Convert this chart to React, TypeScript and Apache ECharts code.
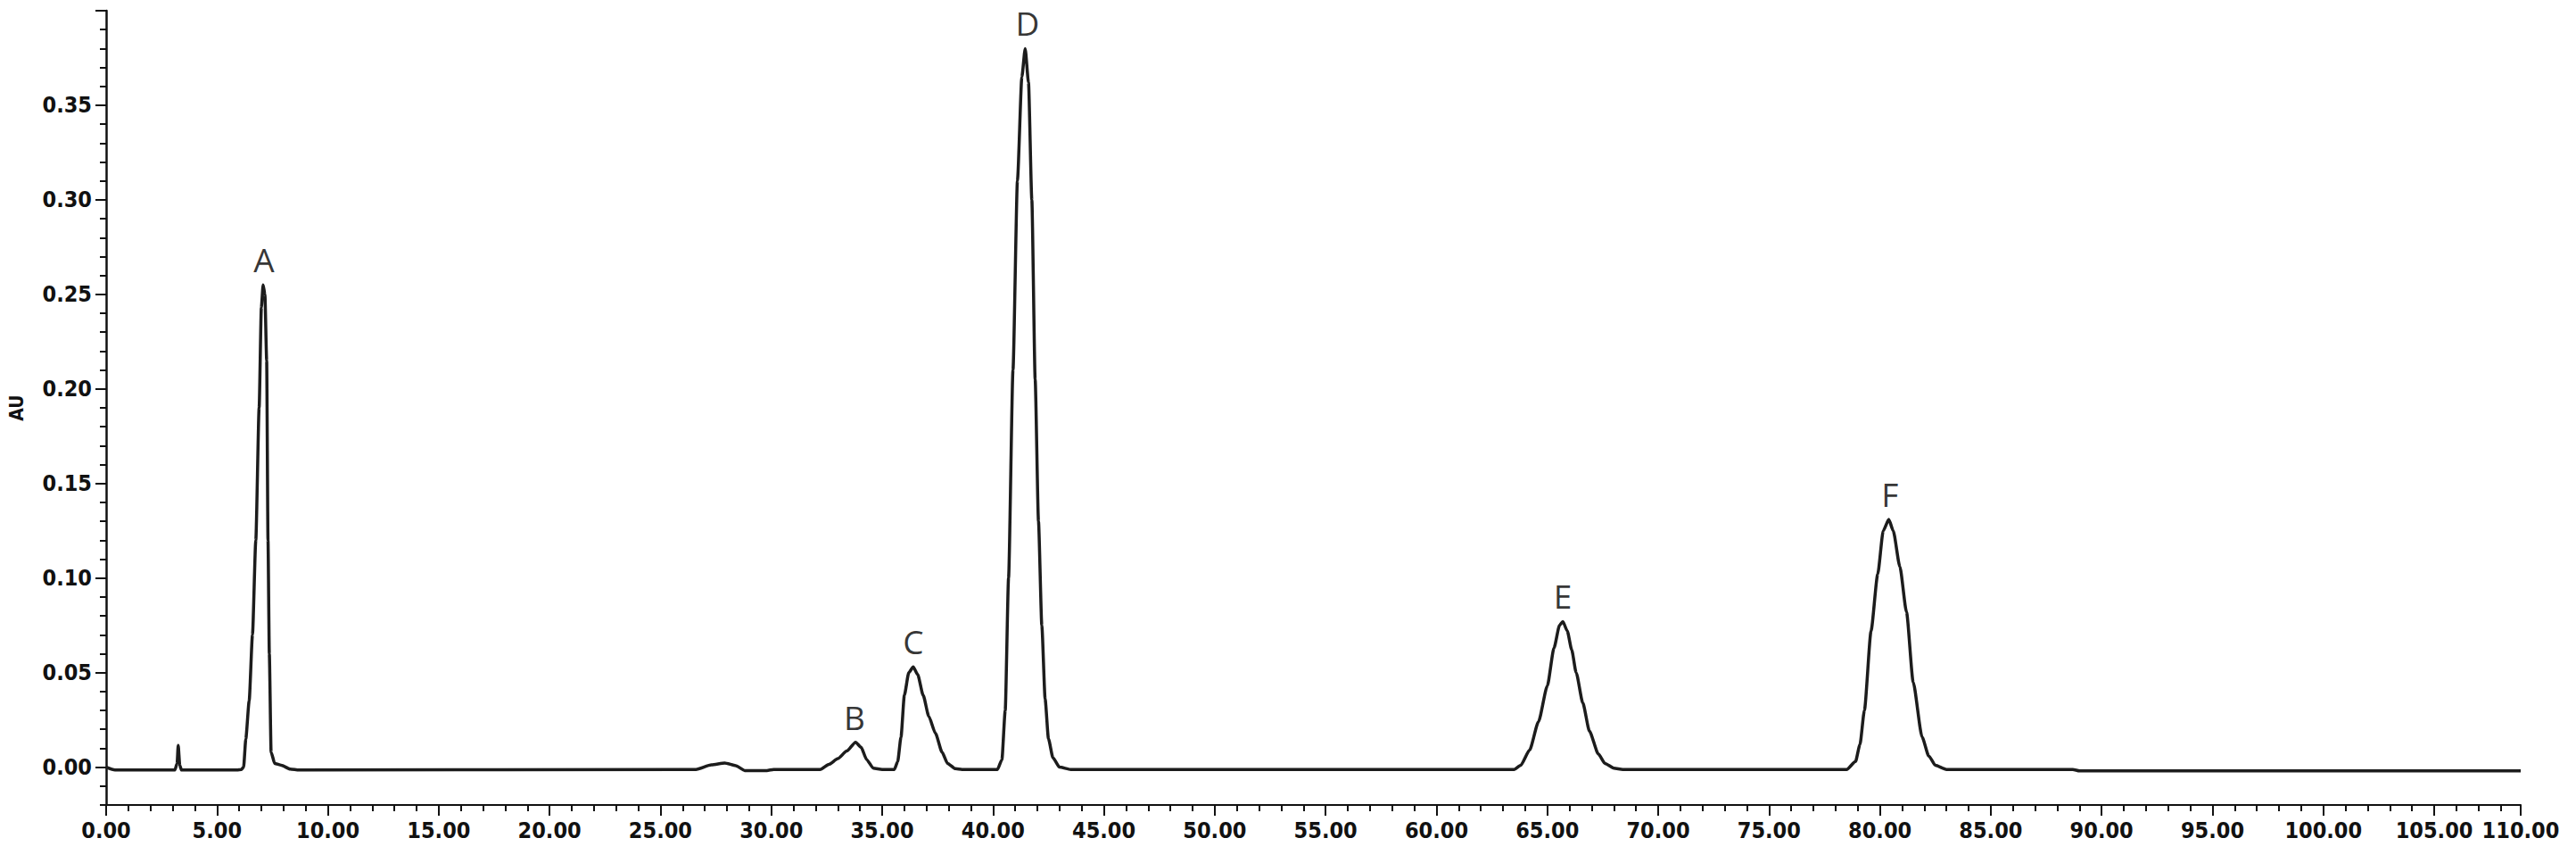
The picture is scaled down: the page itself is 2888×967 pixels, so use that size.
import React, { useEffect, useRef } from "react";
import * as echarts from "echarts";

// Retention time (min) and absorbance (AU)
const retentionTime = [
  0, 0.4, 3.1, 3.2, 3.25, 3.32, 3.4, 5.9,
  6.1, 6.2, 6.3, 6.45, 6.6, 6.75, 6.9, 7.0, 7.08, 7.16, 7.24, 7.3, 7.36, 7.44, 7.6, 7.9, 8.3, 8.7,
  26.6, 27.3, 27.9, 28.4, 28.8, 29.8, 30.1,
  32.2, 32.6, 33.0, 33.4, 33.8, 34.05, 34.3, 34.6, 35.0, 35.55,
  35.7, 35.85, 36.0, 36.2, 36.4, 36.6, 36.85, 37.1, 37.4, 37.7, 37.95, 38.3, 38.6,
  40.2, 40.4, 40.55, 40.7, 40.9, 41.1, 41.3, 41.45, 41.6, 41.75, 41.9, 42.05, 42.2, 42.35, 42.5, 42.7, 43.0, 43.5,
  63.5, 63.8, 64.2, 64.6, 65.0, 65.3, 65.55, 65.7, 65.9, 66.1, 66.3, 66.6, 66.9, 67.3, 67.6, 68.0, 68.4,
  78.5, 78.9, 79.1, 79.3, 79.6, 79.9, 80.15, 80.4, 80.6, 80.9, 81.2, 81.5, 81.9, 82.2, 82.5, 83.0,
  88.7, 89.0, 108.9,
];
const absorbance = [
  0, -0.0015, -0.0015, 0.002, 0.0115, 0.001, -0.0015, -0.0015,
  -0.0012, 0.0, 0.015, 0.035, 0.07, 0.12, 0.19, 0.243, 0.255, 0.25, 0.215, 0.12, 0.06, 0.008, 0.002, 0.001, -0.001, -0.0015,
  -0.0012, 0.0012, 0.0022, 0.0008, -0.0018, -0.0018, -0.0012,
  -0.0012, 0.0015, 0.0045, 0.0085, 0.0132, 0.0105, 0.004, -0.0005, -0.0012, -0.0012,
  0.003, 0.016, 0.038, 0.05, 0.053, 0.049, 0.038, 0.027, 0.018, 0.008, 0.002, -0.0008, -0.0012,
  -0.0012, 0.004, 0.03, 0.1, 0.21, 0.31, 0.365, 0.38, 0.362, 0.3, 0.205, 0.13, 0.075, 0.036, 0.015, 0.005, 0.0, -0.0012,
  -0.0012, 0.001, 0.009, 0.024, 0.043, 0.063, 0.075, 0.077, 0.072, 0.062, 0.05, 0.034, 0.019, 0.007, 0.002, -0.0005, -0.0012,
  -0.0012, 0.003, 0.012, 0.03, 0.072, 0.102, 0.125, 0.131, 0.125, 0.106, 0.082, 0.045, 0.016, 0.006, 0.001, -0.0012,
  -0.0012, -0.002, -0.002,
];

// Peak annotations
const peakNames = ["A", "B", "C", "D", "E", "F"];
const peakTimes = [7.12, 33.75, 36.4, 41.55, 65.7, 80.45];
const peakHeights = [0.255, 0.0132, 0.053, 0.38, 0.077, 0.131];

// Axes
const xMin = 0;
const xMax = 108.9;
const xMajorStep = 5;
const xMinorStep = 1;
const xEndLabel = "110.00";
const yMin = -0.02;
const yMax = 0.4;
const yMinorStep = 0.01;
const yLabelTicks = [0, 0.05, 0.1, 0.15, 0.2, 0.25, 0.3, 0.35];
const yMajorTicks = [0, 0.05, 0.1, 0.15, 0.2, 0.25, 0.3, 0.35, 0.4];
const yAxisName = "AU";

const tickFont = "'Liberation Sans Narrow', 'DejaVu Sans Condensed', 'Arial Narrow', sans-serif";

export default function App() {
  const ref = useRef<HTMLDivElement>(null);
  useEffect(() => {
    if (!ref.current) return;
    const chart = echarts.init(ref.current, null, { renderer: "svg" });
    const lineData = retentionTime.map((t, i) => [t, absorbance[i]]);
    const peakData = peakTimes.map((t, i) => ({ value: [t, peakHeights[i]], name: peakNames[i] }));
    chart.setOption({
      animation: false,
      backgroundColor: "#ffffff",
      grid: { left: 117, right: 62, top: 12, bottom: 65, containLabel: false },
      xAxis: [
        {
          type: "value",
          min: xMin,
          max: xMax,
          interval: xMajorStep,
          axisLine: { show: true, onZero: false, lineStyle: { color: "#111", width: 2 } },
          axisTick: { show: true, length: 12, lineStyle: { color: "#111", width: 2 } },
          axisLabel: {
            show: true,
            margin: 16,
            color: "#111",
            fontSize: 25,
            fontWeight: "bold",
            fontFamily: tickFont,
            showMinLabel: true,
            showMaxLabel: true,
            formatter: (v: number) => (v >= xMax - 1e-6 ? xEndLabel : v.toFixed(2)),
          },
          splitLine: { show: false },
        },
        {
          type: "value",
          min: xMin,
          max: xMax,
          interval: xMinorStep,
          position: "bottom",
          axisLine: { show: false, onZero: false },
          axisTick: { show: true, length: 7, lineStyle: { color: "#111", width: 2 } },
          axisLabel: { show: false },
          splitLine: { show: false },
        },
      ],
      yAxis: [
        {
          type: "value",
          min: yMin,
          max: yMax,
          name: yAxisName,
          nameLocation: "middle",
          nameGap: 90,
          nameTextStyle: { color: "#111", fontSize: 21, fontFamily: tickFont, fontWeight: "bold" },
          axisLine: { show: true, onZero: false, lineStyle: { color: "#111", width: 2.5 } },
          axisTick: { show: true, length: 12, customValues: yMajorTicks, lineStyle: { color: "#111", width: 2 } },
          axisLabel: {
            show: true,
            margin: 16,
            color: "#111",
            fontSize: 25,
            fontWeight: "bold",
            fontFamily: tickFont,
            customValues: yLabelTicks,
            formatter: (v: number) => v.toFixed(2),
          },
          splitLine: { show: false },
        },
        {
          type: "value",
          min: yMin,
          max: yMax,
          interval: yMinorStep,
          position: "left",
          axisLine: { show: false, onZero: false },
          axisTick: { show: true, length: 7, lineStyle: { color: "#111", width: 2 } },
          axisLabel: { show: false },
          splitLine: { show: false },
        },
      ],
      series: [
        {
          type: "line",
          xAxisIndex: 0,
          yAxisIndex: 0,
          data: lineData,
          showSymbol: false,
          symbol: "none",
          smooth: 0.2,
          smoothMonotone: "x",
          lineStyle: { color: "#1c1c1c", width: 3.5 },
          silent: true,
          z: 3,
        },
        {
          type: "scatter",
          xAxisIndex: 0,
          yAxisIndex: 0,
          data: peakData,
          symbolSize: 0,
          silent: true,
          label: {
            show: true,
            position: "top",
            distance: 10,
            formatter: (p: any) => p.name,
            color: "#000",
            fontSize: 37,
            fontFamily: "'Open Sans', 'Noto Sans', sans-serif",
          },
          z: 4,
        },
      ],
    });
    return () => chart.dispose();
  }, []);
  return (
    <div
      ref={ref}
      style={{ position: "absolute", left: 0, top: 0, width: 2888, height: 967, background: "#fff" }}
    />
  );
}
